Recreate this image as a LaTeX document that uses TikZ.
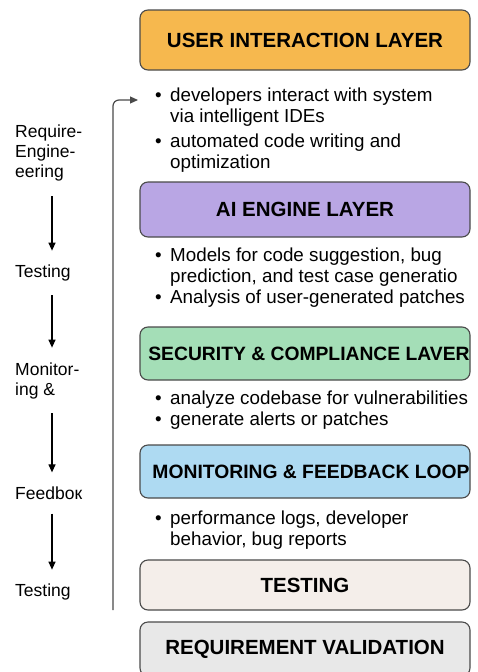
\documentclass[tikz,border=0pt]{standalone}
\usepackage{fontspec}
\setmainfont{Liberation Sans}
\usetikzlibrary{positioning,arrows.meta}

\definecolor{uiorange}{HTML}{F6B84E}
\definecolor{aililac}{HTML}{B9A6E4}
\definecolor{secgreen}{HTML}{A4DEB7}
\definecolor{monblue}{HTML}{AEDAF2}
\definecolor{testbeige}{HTML}{F4EEEA}
\definecolor{reqgray}{HTML}{E8E8E8}
\definecolor{edgegray}{HTML}{4A4A4A}

\tikzset{
  layer/.style={draw=edgegray, line width=1.1pt, rounded corners=8pt,
    minimum width=330pt, inner sep=0pt,
    font=\bfseries\fontsize{20.5}{24}\selectfont},
  widelayer/.style={layer, font=\bfseries\fontsize{19.3}{24}\selectfont},
  bullets/.style={anchor=west, align=left, inner sep=0pt,
    font=\fontsize{18.8}{21}\selectfont},
  stage/.style={anchor=west, align=left, inner sep=0pt,
    font=\fontsize{17.5}{20}\selectfont},
  flow/.style={-{Triangle[width=7pt,length=8pt]}, line width=1.2pt},
}
\newcommand{\bul}{\makebox[15pt][l]{\textbullet}}
\newcommand{\ind}{\hspace*{15pt}}
\newcommand{\lay}[2][0pt]{\makebox[300pt][c]{\hspace*{#1}#2}}

\begin{document}
\begin{tikzpicture}[x=1pt,y=-1pt]
\useasboundingbox (0,0) rectangle (478,672);
\clip (0,0) rectangle (478,672);

% layers
\node[layer, fill=uiorange, minimum height=60pt] (ui) at (305,40) {\lay{USER INTERACTION LAYER}};
\node[bullets] (uitext) at (155,130) {\bul developers interact with system\\
  \ind via intelligent IDEs\\[4pt]
  \bul automated code writing and\\
  \ind optimization};

\node[layer, fill=aililac, minimum height=55pt] (ai) at (305,209.5) {\lay{AI ENGINE LAYER}};
\node[bullets] (aitext) at (155,278) {\bul Models for code suggestion, bug\\
  \ind prediction, and test case generatio\\
  \bul Analysis of user-generated patches};

\node[widelayer, fill=secgreen, minimum height=53pt] (sec) at (305,353.5) {\lay[8pt]{SECURITY \& COMPLIANCE LAVER}};
\node[bullets] (sectext) at (155,410) {\bul analyze codebase for vulnerabilities\\
  \bul generate alerts or patches};

\node[widelayer, fill=monblue, minimum height=53pt] (mon) at (305,471.5) {\lay[12pt]{MONITORING \& FEEDBACK LOOP}};
\node[bullets] (montext) at (155,530) {\bul performance logs, developer\\
  \ind behavior, bug reports};

\node[layer, fill=testbeige, minimum height=50pt] (test) at (305,585) {\lay{TESTING}};
\node[layer, fill=reqgray, minimum height=54pt] (req) at (305,649) {\lay{REQUIREMENT VALIDATION}};

% left column
\node[stage] (req1) at (15,153) {Require-\\Engine-\\eering};
\node[stage] (test1) at (15,273) {Testing};
\node[stage] (mon1) at (15,381) {Monitor-\\ing \&};
\node[stage] (feed1) at (15,493) {Feedbo{к}};
\node[stage] (test2) at (15,592) {Testing};

\coordinate (ax) at (52,0);
\draw[flow, shorten <=15pt, shorten >=14pt] (req1.south -| ax) -- (test1.north -| ax);
\draw[flow, shorten <=14pt, shorten >=15pt] (test1.south -| ax) -- (mon1.north -| ax);
\draw[flow, shorten <=14pt, shorten >=14pt] (mon1.south -| ax) -- (feed1.north -| ax);
\draw[flow, shorten <=14pt, shorten >=14pt] (feed1.south -| ax) -- (test2.north -| ax);

% feedback loop
\coordinate (loopbot) at (113,610);
\coordinate (looptip) at (138,100);
\draw[flow, draw=edgegray, rounded corners=6pt] (loopbot) |- (looptip);
\end{tikzpicture}
\end{document}
